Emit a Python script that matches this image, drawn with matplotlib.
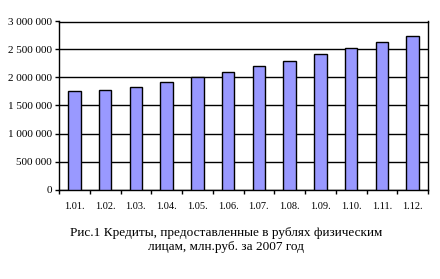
import numpy as np
import matplotlib
matplotlib.use("Agg")
from matplotlib import pyplot as plt
from matplotlib.ticker import FuncFormatter

months = ["1.01.", "1.02.", "1.03.", "1.04.", "1.05.", "1.06.",
          "1.07.", "1.08.", "1.09.", "1.10.", "1.11.", "1.12."]
credits = [1761000, 1779000, 1827000, 1916000, 2011000, 2100000,
           2202000, 2297000, 2422000, 2524000, 2631000, 2744000]
yticks = [0, 500000, 1000000, 1500000, 2000000, 2500000, 3000000]

plt.rcParams['font.family'] = ['Liberation Serif', 'DejaVu Serif']

fig = plt.figure(figsize=(4.4, 2.79), dpi=100)
ax = fig.add_axes([59 / 440, 1 - 189.5 / 279, (428 - 59) / 440, (189.5 - 21.5) / 279])

x = np.arange(len(months))
ax.bar(x, credits, width=0.4, color="#9999ff", edgecolor="black", linewidth=1.0, zorder=3)

ax.set_xlim(-0.5, len(months) - 0.5)
ax.set_ylim(0, 3000000)
ax.set_yticks(yticks)
ax.yaxis.set_major_formatter(FuncFormatter(lambda v, p: "{:,}".format(int(v)).replace(",", " ")))
ax.grid(axis="y", color="black", linewidth=1.0, zorder=0)

# category labels centred, tick marks between categories
ax.set_xticks(x)
ax.set_xticklabels(months)
ax.set_xticks(np.arange(-0.5, len(months)), minor=True)
ax.tick_params(axis="x", which="major", length=0, pad=9, labelsize=7.5)
ax.tick_params(axis="x", which="minor", length=3, width=1.0, direction="out")
ax.tick_params(axis="y", length=3, width=1.0, labelsize=8, pad=2)

for s in ax.spines.values():
    s.set_linewidth(1.0)
    s.set_color("black")

fig.text(226 / 440, 1 - 240 / 279,
         "Рис.1 Кредиты, предоставленные в рублях физическим\nлицам, млн.руб. за 2007 год",
         ha="center", va="center", multialignment="center", fontsize=9.5, linespacing=1.3)

fig.savefig("out.png", dpi=100)
